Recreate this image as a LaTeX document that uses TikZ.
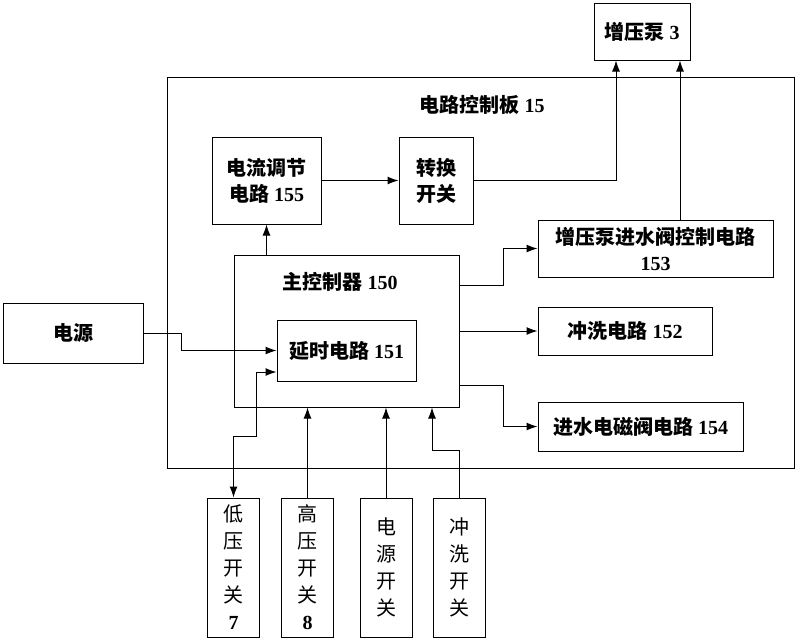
\documentclass[tikz,border=0pt]{standalone}
\usepackage{fontspec}
\setmainfont{Liberation Serif}
\newfontfamily\cjk{Noto Sans CJK SC}
\usetikzlibrary{arrows.meta}

\begin{document}
\begin{tikzpicture}[x=1pt,y=-1pt,>={Latex[length=11pt,width=8pt]},line width=1pt,
  blk/.style={draw,inner sep=0pt,align=center,font=\fontsize{20}{26}\selectfont\bfseries},
  switchbox/.style={draw,inner sep=0pt,align=center,minimum width=52pt,minimum height=139pt,
    font=\fontsize{20}{27}\selectfont},
  ]

  \def\zh#1{{\cjk #1}}
  \useasboundingbox (0,0) rectangle (800,643);

  % board and its label
  \node[draw,minimum width=627pt,minimum height=391pt] (board) at (480.5,272.5) {};
  \node[font=\fontsize{20}{24}\selectfont\bfseries] (boardlbl) at (482,105) {\zh{电路控制板} 15};

  \node[blk,minimum width=96pt,minimum height=57pt] (pump) at (642,31.5) {\zh{增压泵} 3};
  \node[blk,minimum width=109pt,minimum height=87pt] (cur) at (266.5,180.5) {\zh{电流调节}\\\zh{电路} 155};
  \node[blk,minimum width=74pt,minimum height=87pt] (conv) at (436,180.5) {\zh{转换}\\\zh{开关}};
  \node[draw,minimum width=225pt,minimum height=152pt] (main) at (346.5,331) {};
  \node[font=\fontsize{20}{24}\selectfont\bfseries] (mainlbl) at (340,282) {\zh{主控制器} 150};
  \node[blk,minimum width=139pt,minimum height=61pt] (delay) at (346.5,350.5) {\zh{延时电路} 151};
  \node[blk,minimum width=140pt,minimum height=60pt] (pwr) at (73,333) {\zh{电源}};

  \node[blk,minimum width=235pt,minimum height=57pt] (c153) at (655.5,248.5) {\zh{增压泵进水阀控制电路}\\153};
  \node[blk,minimum width=174pt,minimum height=48pt] (c152) at (625,331) {\zh{冲洗电路} 152};
  \node[blk,minimum width=205pt,minimum height=49pt] (c154) at (640.5,426.5) {\zh{进水电磁阀电路} 154};

  % switches below the board
  \node[switchbox] (low) at (233.5,567.5) {\zh{低}\\\zh{压}\\\zh{开}\\\zh{关}\\\textbf{7}};
  \node[switchbox] (high) at (307.5,567.5) {\zh{高}\\\zh{压}\\\zh{开}\\\zh{关}\\\textbf{8}};
  \node[switchbox] (psw) at (386,567.5) {\zh{电}\\\zh{源}\\\zh{开}\\\zh{关}};
  \node[switchbox] (flush) at (459.5,567.5) {\zh{冲}\\\zh{洗}\\\zh{开}\\\zh{关}};

  % connections
  \draw[->] (cur.east) -- (conv.west);
  \draw[->] (conv.east) -| ([xshift=-26pt]pump.south);
  \draw[->] ([xshift=38pt]pump.south |- c153.north) -- ([xshift=38pt]pump.south);
  \draw[->] (cur.south |- main.north) -- (cur.south);
  \draw[->] ([yshift=46pt]main.east) -- ++(44,0) |- (c153.west);
  \draw[->] (main.east) -- (c152.west);
  \draw[->] ([yshift=-54pt]main.east) -- ++(44,0) |- (c154.west);
  \draw[->] (pwr.east) -- ++(38,0) |- (delay.west);
  \draw[<->] (low.north) -- ++(0,-61) -- ++(22.5,0) |- ([yshift=-21.5pt]delay.west);
  \draw[->] (high.north) -- (high.north |- main.south);
  \draw[->] (psw.north) -- (psw.north |- main.south);
  \draw[->] (flush.north) -- ++(0,-47) -| ([xshift=85.5pt]main.south);

\end{tikzpicture}
\end{document}
